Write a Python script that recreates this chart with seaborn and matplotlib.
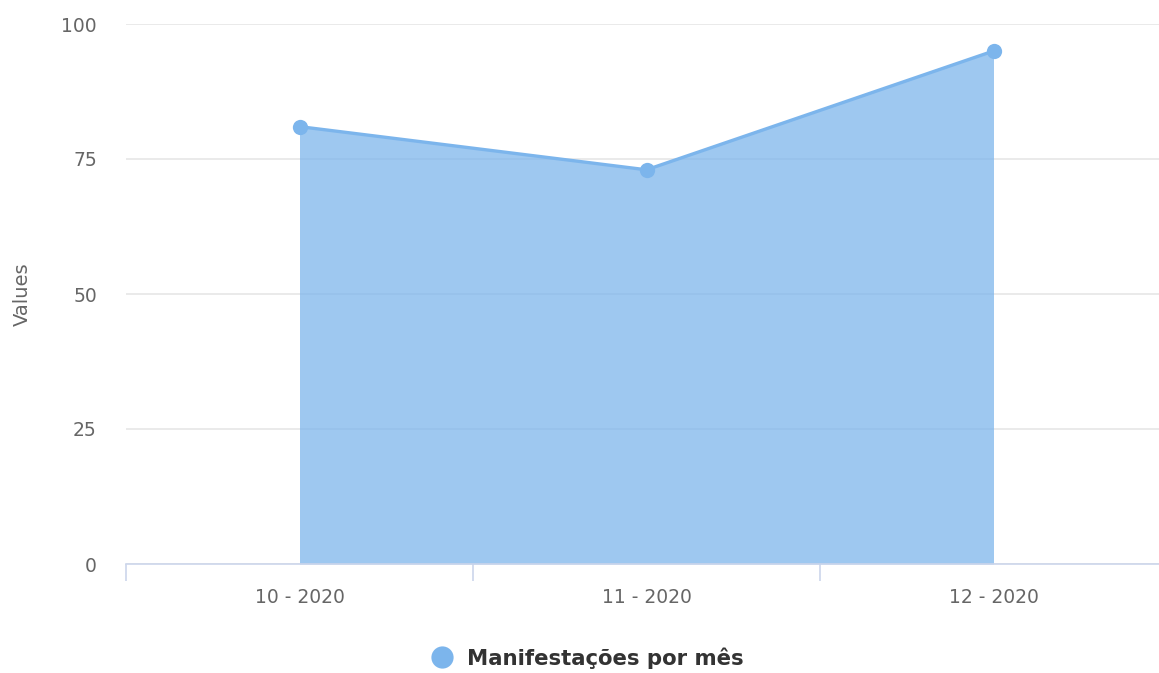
import pandas as pd
import matplotlib
matplotlib.use("Agg")
import matplotlib.pyplot as plt
import seaborn as sns
from matplotlib.lines import Line2D

sns.set_style("white")
plt.rcParams['font.family'] = ['DejaVu Sans']

# Data
months = ["10 - 2020", "11 - 2020", "12 - 2020"]
values = [81, 73, 95]
series_name = "Manifestações por mês"

df = pd.DataFrame({'pos': range(len(months)), 'month': months, 'value': values})

fig = plt.figure(figsize=(11.59, 6.73), dpi=100)
ax = fig.add_axes([126 / 1159, 1 - 564 / 673, 1041 / 1159, 540 / 673])

# Area + line + markers
ax.fill_between(df['pos'], df['value'], 0, color='#7cb5ec', alpha=0.74, linewidth=0, zorder=2)
sns.lineplot(data=df, x='pos', y='value', ax=ax, color='#7cb5ec', linewidth=2.4,
             marker='o', markersize=11, markeredgewidth=0, zorder=3)

# Axes
ax.set_xlim(-0.5, 2.5)
ax.set_ylim(0, 100)
ax.set_yticks([0, 25, 50, 75, 100])
ax.set_xticks(df['pos'])
ax.set_xticklabels(months)
ax.set_xticks([-0.5, 0.5, 1.5, 2.5], minor=True)
ax.tick_params(axis='x', which='major', bottom=False, length=0, pad=17, labelsize=13.5, labelcolor='#666666')
ax.tick_params(axis='x', which='minor', bottom=True, length=12.5, width=1.2, color='#ccd6eb', direction='out')
ax.tick_params(axis='y', length=0, pad=21, labelsize=13.5, labelcolor='#666666')

ax.grid(axis='y', color='#e6e6e6', linewidth=1.2, zorder=0)
ax.set_axisbelow(True)
for side in ['top', 'right', 'left']:
    ax.spines[side].set_visible(False)
ax.spines['bottom'].set_color('#ccd6eb')
ax.spines['bottom'].set_linewidth(1.2)

ax.set_xlabel('')
ax.set_ylabel('Values', color='#666666', fontsize=14, labelpad=21)

# Legend
handle = Line2D([], [], marker='o', color='none', markerfacecolor='#7cb5ec',
                markeredgewidth=0, markersize=16)
leg = fig.legend([handle], [series_name], loc='center', bbox_to_anchor=(0.506, 1 - 658 / 673),
                 frameon=False, handletextpad=0.6, handlelength=1.2,
                 prop={'weight': 'bold', 'size': 15.3})
for t in leg.get_texts():
    t.set_color('#333333')

fig.savefig('out.png', dpi=100)
